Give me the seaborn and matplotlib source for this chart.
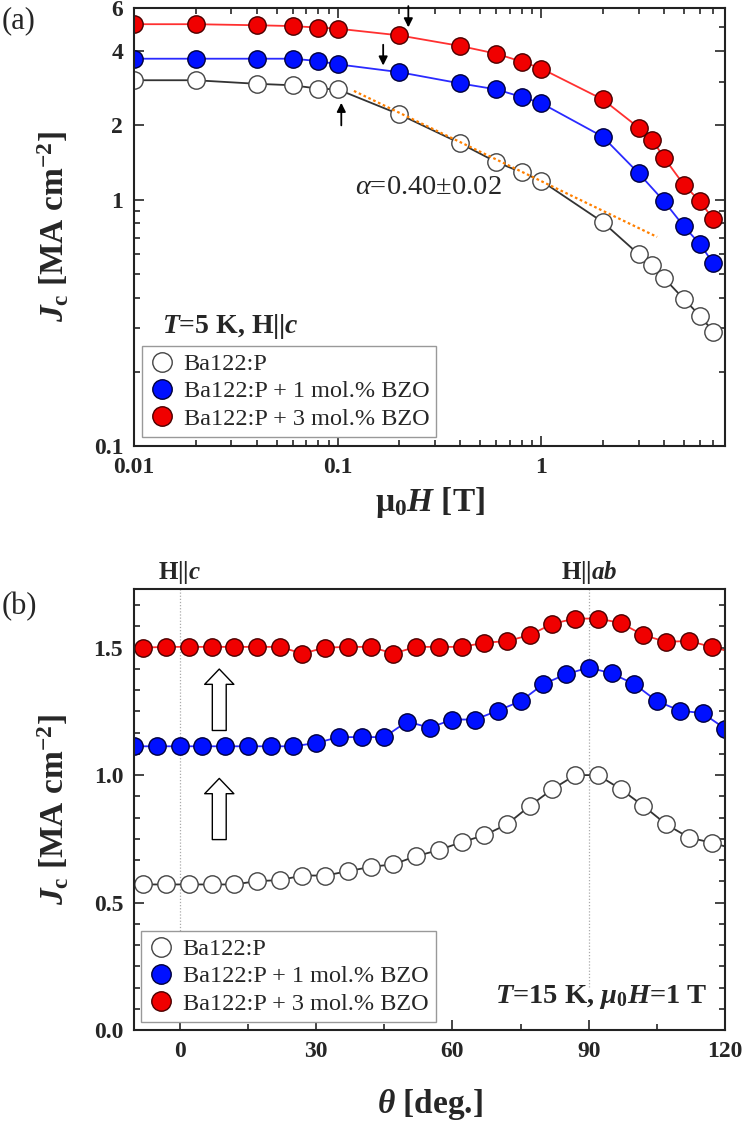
import matplotlib
matplotlib.use('Agg')
import matplotlib.pyplot as plt
import seaborn as sns
from matplotlib.lines import Line2D
from matplotlib.ticker import FixedLocator, FixedFormatter, LogLocator, NullFormatter, MultipleLocator, AutoMinorLocator

# panel (a): Jc vs field, T=5 K, H||c
field = [0.01, 0.02, 0.04, 0.06, 0.08, 0.1, 0.2, 0.4, 0.6, 0.8, 1, 2, 3, 3.5, 4, 5, 6, 7]
jc_pure = [3.05, 3.05, 2.95, 2.91, 2.82, 2.80, 2.22, 1.69, 1.42, 1.29, 1.19, 0.81, 0.60, 0.54, 0.48, 0.395, 0.338, 0.29]
field_1 = [0.01, 0.02, 0.04, 0.06, 0.08, 0.1, 0.2, 0.4, 0.6, 0.8, 1, 2, 3, 4, 5, 6, 7]
jc_1 = [3.73, 3.73, 3.73, 3.73, 3.65, 3.54, 3.29, 2.96, 2.80, 2.61, 2.46, 1.80, 1.28, 0.985, 0.78, 0.66, 0.55]
jc_3 = [5.15, 5.15, 5.10, 5.06, 4.99, 4.94, 4.64, 4.20, 3.91, 3.63, 3.40, 2.55, 1.96, 1.75, 1.48, 1.15, 0.985, 0.83]
fit_field = [0.12, 3.7]
fit_jc = [2.76, 0.705]

# panel (b): Jc vs angle, T=15 K, 1 T
theta = [-8, -3, 2, 7, 12, 17, 22, 27, 32, 37, 42, 47, 52, 57, 62, 67, 72, 77, 82, 87, 92, 97, 102, 107, 112, 117, 122]
theta_1 = [-10, -5, 0, 5, 10, 15, 20, 25, 30, 35, 40, 45, 50, 55, 60, 65, 70, 75, 80, 85, 90, 95, 100, 105, 110, 115, 120]
jc_pure_b = [0.571, 0.571, 0.571, 0.571, 0.571, 0.584, 0.588, 0.606, 0.606, 0.623, 0.640, 0.650, 0.682, 0.706,
             0.737, 0.764, 0.807, 0.879, 0.945, 1.0, 1.0, 0.945, 0.879, 0.807, 0.755, 0.735, 0.71]
jc_1_b = [1.113, 1.113, 1.113, 1.113, 1.113, 1.113, 1.113, 1.113, 1.126, 1.149, 1.149, 1.149, 1.210, 1.186,
          1.218, 1.218, 1.253, 1.290, 1.357, 1.396, 1.422, 1.399, 1.357, 1.290, 1.253, 1.243, 1.182]
jc_3_b = [1.500, 1.503, 1.503, 1.503, 1.503, 1.503, 1.503, 1.477, 1.500, 1.503, 1.503, 1.477, 1.503, 1.503,
          1.503, 1.519, 1.526, 1.549, 1.594, 1.614, 1.614, 1.597, 1.549, 1.523, 1.526, 1.503, 1.48]

labels = ['Ba122:P', 'Ba122:P + 1 mol.% BZO', 'Ba122:P + 3 mol.% BZO']
styles = [
    dict(color='#333333', markerfacecolor='white', markeredgecolor='#444444'),
    dict(color='#2a2aff', markerfacecolor='#0010ff', markeredgecolor='#00003a'),
    dict(color='#ff3030', markerfacecolor='#f00000', markeredgecolor='#4a0000'),
]

sns.set_theme(style='ticks')
plt.rcParams['font.family'] = ['Liberation Serif', 'DejaVu Serif']
plt.rcParams['mathtext.fontset'] = 'custom'
plt.rcParams['mathtext.rm'] = 'Liberation Serif'
plt.rcParams['mathtext.it'] = 'Liberation Serif:italic:bold'
plt.rcParams['mathtext.bf'] = 'Liberation Serif:bold'
plt.rcParams['mathtext.sf'] = 'Liberation Serif:italic'

fig = plt.figure(figsize=(7.5, 11.23), dpi=100)
ax1 = fig.add_axes([0.179, 0.603, 0.788, 0.390])
ax2 = fig.add_axes([0.179, 0.0828, 0.788, 0.3927])

mk = dict(marker='o', markersize=12.5, markeredgewidth=1.0, linewidth=1.3)

# marker-only legend handles, like the original
handles = [Line2D([], [], ls='none', marker='o', markersize=14, markeredgewidth=1.0,
                  markerfacecolor=s['markerfacecolor'], markeredgecolor=s['markeredgecolor'])
           for s in styles]
leg_kw = dict(loc='lower left', borderaxespad=0, fontsize=17.5, fancybox=False, edgecolor='#999999',
              framealpha=1, handletextpad=0.4, borderpad=0.3, labelspacing=0.22, handlelength=1.0)

# ---- panel (a)
sns.lineplot(x=field, y=jc_pure, ax=ax1, **styles[0], **mk)
sns.lineplot(x=field_1, y=jc_1, ax=ax1, **styles[1], **mk)
sns.lineplot(x=field, y=jc_3, ax=ax1, **styles[2], **mk)
ax1.plot(fit_field, fit_jc, ls=(0, (1.2, 1.2)), color='#ff8000', lw=1.6, zorder=5)

ax1.set_xscale('log')
ax1.set_yscale('log')
ax1.set_xlim(0.01, 8)
ax1.set_ylim(0.1, 6)
ax1.xaxis.set_major_locator(FixedLocator([0.01, 0.1, 1]))
ax1.xaxis.set_major_formatter(FixedFormatter(['0.01', '0.1', '1']))
ax1.xaxis.set_minor_locator(LogLocator(subs=[2, 3, 4, 5, 6, 7, 8, 9]))
ax1.xaxis.set_minor_formatter(NullFormatter())
ax1.yaxis.set_major_locator(FixedLocator([0.1, 1, 2, 4, 6]))
ax1.yaxis.set_major_formatter(FixedFormatter(['0.1', '1', '2', '4', '6']))
ax1.yaxis.set_minor_locator(LogLocator(subs=[2, 3, 4, 5, 6, 7, 8, 9]))
ax1.yaxis.set_minor_formatter(NullFormatter())
ax1.set_xlabel('μ$_\\mathbf{0}H$ [T]', fontsize=24, fontweight='bold', labelpad=5)
ax1.set_ylabel('$J_\\mathbf{c}$ [MA cm$^\\mathbf{-2}$]', fontsize=24, fontweight='bold', labelpad=16)

arrow = dict(arrowstyle='-|>', color='black', lw=1.3, mutation_scale=13, shrinkA=0, shrinkB=0)
ax1.annotate('', xy=(0.222, 5.0), xytext=(0.222, 6.1), arrowprops=arrow, annotation_clip=False)
ax1.annotate('', xy=(0.167, 3.5), xytext=(0.167, 4.25), arrowprops=arrow)
ax1.annotate('', xy=(0.104, 2.47), xytext=(0.104, 2.0), arrowprops=arrow)

ax1.text(0.122, 1.12, '$\\mathsf{\\alpha}$=0.40±0.02', fontsize=20.5, va='center', ha='left')
ax1.text(0.047, 0.272, '$T$=5 K, $\\mathbf{H}$||$c$', transform=ax1.transAxes,
         fontsize=20, fontweight='bold', va='center', ha='left')
ax1.legend(handles=handles, labels=labels, bbox_to_anchor=(0.0135, 0.02), **leg_kw)
ax1.text(-0.225, 0.97, '(a)', transform=ax1.transAxes, fontsize=22, va='center', ha='left')

# ---- panel (b)
sns.lineplot(x=theta, y=jc_pure_b, ax=ax2, **styles[0], **mk)
sns.lineplot(x=theta_1, y=jc_1_b, ax=ax2, **styles[1], **mk)
sns.lineplot(x=theta, y=jc_3_b, ax=ax2, **styles[2], **mk)

ax2.set_xlim(-10, 120)
ax2.set_ylim(0, 1.73)
ax2.xaxis.set_major_locator(MultipleLocator(30))
ax2.xaxis.set_minor_locator(AutoMinorLocator(2))
ax2.yaxis.set_major_locator(FixedLocator([0, 0.5, 1.0, 1.5]))
ax2.yaxis.set_major_formatter(FixedFormatter(['0.0', '0.5', '1.0', '1.5']))
ax2.yaxis.set_minor_locator(MultipleLocator(0.5 / 6))
ax2.set_xlabel('$\\theta$ [deg.]', fontsize=24, fontweight='bold', labelpad=18)
ax2.set_ylabel('$J_\\mathbf{c}$ [MA cm$^\\mathbf{-2}$]', fontsize=24, fontweight='bold', labelpad=16)

for xv in [0, 90]:
    ax2.plot([xv, xv], [0.17, 1.73], ls=(0, (1, 1.5)), color='#aaaaaa', lw=0.9, zorder=0)
ax2.text(0, 1.74, '$\\mathbf{H}$||$c$', fontsize=18, fontweight='bold', ha='center', va='bottom')
ax2.text(90, 1.74, '$\\mathbf{H}$||$ab$', fontsize=18, fontweight='bold', ha='center', va='bottom')

hollow = dict(arrowstyle='simple,head_length=0.55,head_width=1.05,tail_width=0.5',
              fc='white', ec='black', lw=1.0, mutation_scale=20, shrinkA=0, shrinkB=0)
ax2.annotate('', xy=(8.7, 1.416), xytext=(8.7, 1.175), arrowprops=hollow)
ax2.annotate('', xy=(8.7, 0.987), xytext=(8.7, 0.747), arrowprops=hollow)

ax2.text(0.97, 0.075, '$T$=15 K, $\\mu_\\mathbf{0}H$=1 T', transform=ax2.transAxes,
         fontsize=20.5, fontweight='bold', va='center', ha='right')
ax2.legend(handles=handles, labels=labels, bbox_to_anchor=(0.012, 0.018), **leg_kw)
ax2.text(-0.225, 0.96, '(b)', transform=ax2.transAxes, fontsize=22, va='center', ha='left')

for ax, top in [(ax1, True), (ax2, False)]:
    for sp in ax.spines.values():
        sp.set_linewidth(1.5)
        sp.set_color('#222222')
    ax.tick_params(which='both', direction='in', right=True, top=top, width=1.2)
    ax.tick_params(which='major', length=7, labelsize=17, pad=8)
    ax.tick_params(which='minor', length=4)
    for lab in ax.get_xticklabels() + ax.get_yticklabels():
        lab.set_fontweight('bold')

fig.savefig('out.png', dpi=100)
